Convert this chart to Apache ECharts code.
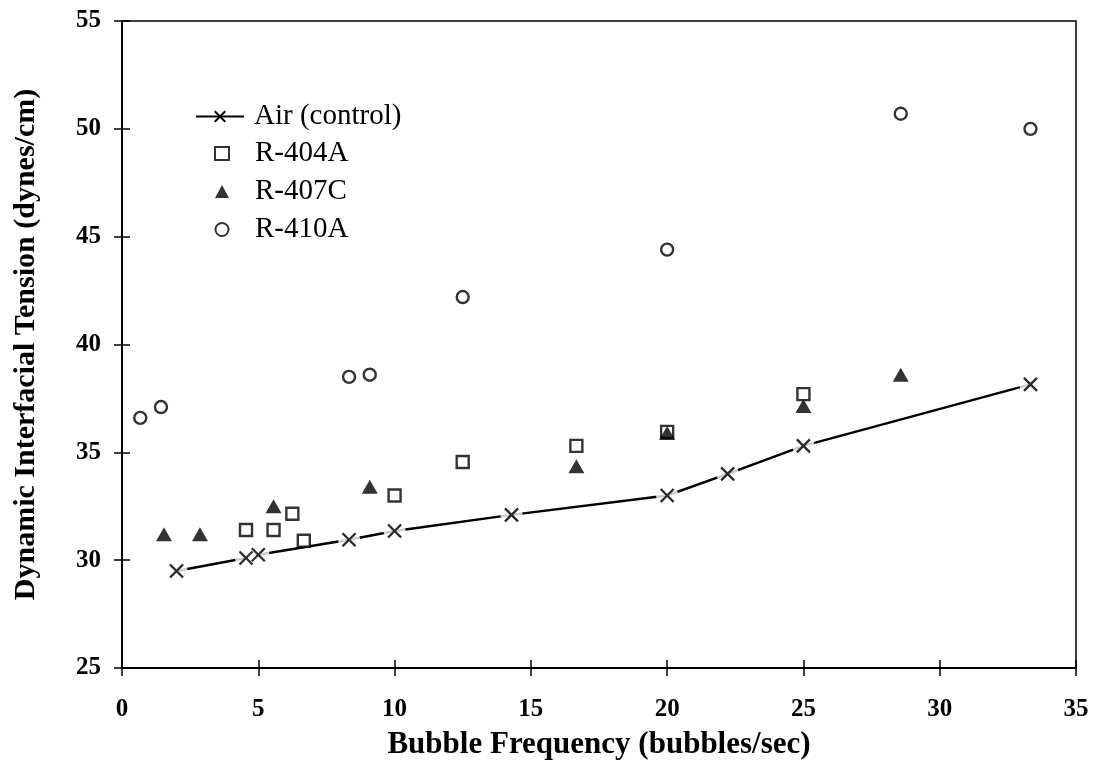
<!DOCTYPE html>
<html>
<head>
<meta charset="utf-8">
<script src="https://cdn.jsdelivr.net/npm/echarts@6/dist/echarts.min.js"></script>
<style>
  html, body { margin: 0; padding: 0; background: #fff; }
  #chart { width: 1094px; height: 778px; }
</style>
</head>
<body>
<div id="chart"></div>
<script>
// values
var airFreq = [2.0, 4.55, 5.0, 8.33, 10.0, 14.29, 20.0, 22.22, 25.0, 33.33];
var airTension = [29.5, 30.1, 30.25, 30.95, 31.35, 32.1, 33.0, 34.0, 35.3, 38.15];

var r404Freq = [4.55, 5.56, 6.25, 6.67, 10.0, 12.5, 16.67, 20.0, 25.0];
var r404Tension = [31.4, 31.4, 32.15, 30.9, 33.0, 34.55, 35.3, 35.95, 37.7];

var r407Freq = [1.54, 2.86, 5.56, 9.09, 16.67, 20.0, 25.0, 28.57];
var r407Tension = [31.2, 31.2, 32.5, 33.4, 34.35, 35.9, 37.15, 38.6];

var r410Freq = [0.67, 1.43, 8.33, 9.09, 12.5, 20.0, 28.57, 33.33];
var r410Tension = [36.6, 37.1, 38.5, 38.6, 42.2, 44.4, 50.7, 50.0];

var lineName = 'Air (control)';
var markerNames = ['R-404A', 'R-407C', 'R-410A'];

function zip(xs, ys) {
    return xs.map(function (x, i) { return [x, ys[i]]; });
}

var serif = '"Liberation Serif", "Times New Roman", serif';
var crossPath = 'path://M0,0L10,10M10,0L0,10';
var legendText = { fontFamily: serif, fontSize: 29, color: '#000', lineHeight: 28 };

var chart = echarts.init(document.getElementById('chart'));

var option = {
    backgroundColor: '#fff',
    animation: false,
    grid: {
        left: 122,
        right: 18,
        top: 21,
        bottom: 110,
        show: true,
        borderColor: '#000',
        borderWidth: 1.5
    },
    legend: [
        {
            orient: 'vertical',
            left: 190,
            top: 97,
            itemWidth: 48,
            itemHeight: 13,
            data: [lineName],
            textStyle: Object.assign({ padding: [0, 0, 0, 5] }, legendText)
        },
        {
            orient: 'vertical',
            left: 209,
            top: 134,
            itemWidth: 14,
            itemHeight: 13,
            itemGap: 9,
            data: markerNames,
            textStyle: Object.assign({ padding: [0, 0, 0, 21] }, legendText)
        }
    ],
    xAxis: [
        {
            type: 'value',
            min: 0,
            max: 35,
            interval: 5,
            name: 'Bubble Frequency (bubbles/sec)',
            nameLocation: 'middle',
            nameGap: 61,
            nameTextStyle: { fontFamily: serif, fontSize: 31, fontWeight: 'bold', color: '#000' },
            axisLine: { lineStyle: { color: '#000', width: 2 } },
            axisTick: { length: 8, lineStyle: { color: '#000', width: 1.5 } },
            axisLabel: { margin: 29, fontFamily: serif, fontSize: 25, fontWeight: 'bold', color: '#000' },
            splitLine: { show: false }
        },
        {
            // inner half of the crossing ticks
            type: 'value',
            min: 0,
            max: 35,
            interval: 5,
            position: 'bottom',
            axisLine: { show: false },
            axisTick: { inside: true, length: 8, lineStyle: { color: '#000', width: 1.5 } },
            axisLabel: { show: false },
            splitLine: { show: false }
        }
    ],
    yAxis: [
        {
            type: 'value',
            min: 25,
            max: 55,
            interval: 5,
            name: 'Dynamic Interfacial Tension (dynes/cm)',
            nameLocation: 'middle',
            nameGap: 81,
            nameTextStyle: { fontFamily: serif, fontSize: 30, fontWeight: 'bold', color: '#000' },
            axisLine: { show: true, lineStyle: { color: '#000', width: 2 } },
            axisTick: { show: true, length: 8, lineStyle: { color: '#000', width: 1.5 } },
            axisLabel: { margin: 21, fontFamily: serif, fontSize: 25, fontWeight: 'bold', color: '#000' },
            splitLine: { show: false }
        },
        {
            type: 'value',
            min: 25,
            max: 55,
            interval: 5,
            position: 'left',
            axisLine: { show: false },
            axisTick: { show: true, inside: true, length: 8, lineStyle: { color: '#000', width: 1.5 } },
            axisLabel: { show: false },
            splitLine: { show: false }
        }
    ],
    series: [
        {
            name: lineName,
            type: 'line',
            z: 1,
            data: zip(airFreq, airTension),
            symbol: crossPath,
            symbolSize: 13,
            itemStyle: { color: '#000', borderColor: '#000', borderWidth: 2.2 },
            lineStyle: { color: '#000', width: 2.5 }
        },
        {
            // white halo so the line stops short of each cross
            type: 'scatter',
            z: 2,
            silent: true,
            data: zip(airFreq, airTension),
            symbol: 'circle',
            symbolSize: 22,
            itemStyle: { color: '#fff', borderWidth: 0 }
        },
        {
            type: 'scatter',
            z: 3,
            silent: true,
            data: zip(airFreq, airTension),
            symbol: crossPath,
            symbolSize: 13,
            itemStyle: { color: '#000', borderColor: '#000', borderWidth: 2.2 }
        },
        {
            name: 'R-404A',
            type: 'scatter',
            z: 4,
            data: zip(r404Freq, r404Tension),
            symbol: 'rect',
            symbolSize: 12,
            itemStyle: { color: '#fff', borderColor: '#000', borderWidth: 2.4 }
        },
        {
            name: 'R-407C',
            type: 'scatter',
            z: 5,
            data: zip(r407Freq, r407Tension),
            symbol: 'triangle',
            symbolSize: [16, 14],
            itemStyle: { color: '#000', borderColor: '#000', borderWidth: 0 }
        },
        {
            name: 'R-410A',
            type: 'scatter',
            z: 4,
            data: zip(r410Freq, r410Tension),
            symbol: 'circle',
            symbolSize: 12,
            itemStyle: { color: '#fff', borderColor: '#000', borderWidth: 2.4 }
        }
    ]
};

chart.setOption(option);
</script>
</body>
</html>
